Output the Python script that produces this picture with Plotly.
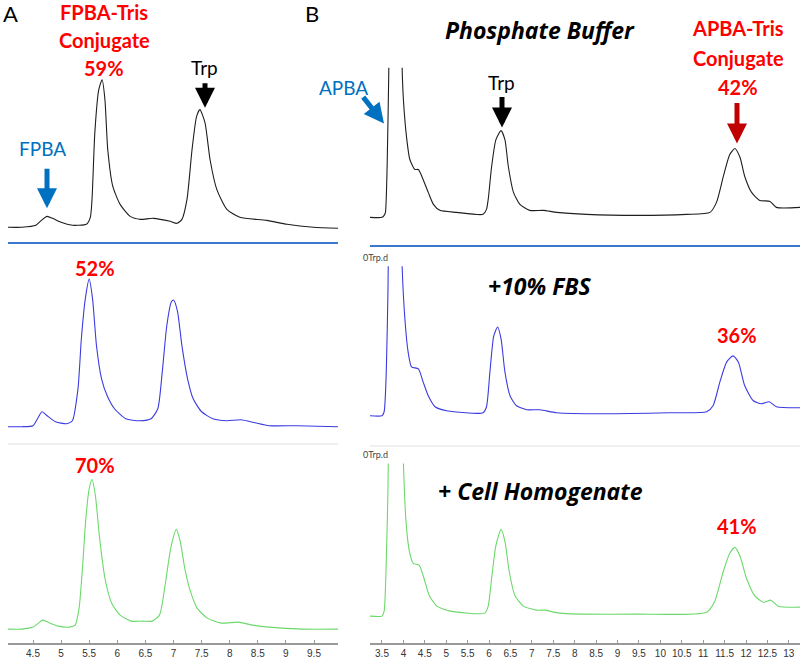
import plotly.graph_objects as go

W, H = 800, 659

# ---------------- data (retention time in min, signal above baseline, a.u.) ----------------
# Panel A, phosphate buffer (black)
a1_time = [4.05, 4.30, 4.55, 4.65, 4.75, 4.85, 5.00, 5.20, 5.30, 5.45, 5.52, 5.55, 5.60, 5.67, 5.73,
           5.78, 5.83, 5.92, 6.05, 6.23, 6.41, 6.64, 6.94, 7.06, 7.15, 7.24, 7.33, 7.41, 7.47, 7.56,
           7.65, 7.77, 7.95, 8.18, 8.66, 9.02, 9.49, 9.93]
a1_signal = [0, 0, 2, 7, 11, 9, 5, 2, 2, 3, 10, 28, 95, 138, 148,
             128, 78, 41, 23, 11, 8, 9, 6, 4, 8, 28, 78, 111, 118, 105,
             68, 38, 18, 10, 7, 3, 0, -1]
# Panel A, +10% FBS (blue)
a2_time = [4.05, 4.30, 4.50, 4.58, 4.66, 4.75, 4.90, 5.10, 5.20, 5.30, 5.36, 5.43, 5.50, 5.56, 5.63,
           5.72, 5.82, 5.95, 6.15, 6.40, 6.60, 6.72, 6.80, 6.88, 6.96, 7.00, 7.07, 7.15, 7.25, 7.35,
           7.50, 7.70, 7.95, 8.20, 8.45, 8.70, 9.20, 9.93]
a2_signal = [0, 0, 1, 8, 15, 11, 5, 3, 6, 38, 88, 128, 148, 128, 81,
             48, 31, 18, 8, 6, 8, 18, 55, 101, 125, 127, 116, 81, 48, 28,
             15, 8, 6, 7, 4, 1, 1, 0]
# Panel A, + cell homogenate (green)
a3_time = [4.05, 4.30, 4.50, 4.60, 4.67, 4.80, 4.95, 5.15, 5.25, 5.32, 5.38, 5.44, 5.50, 5.55, 5.61,
           5.68, 5.78, 5.90, 6.05, 6.25, 6.45, 6.62, 6.75, 6.85, 6.95, 7.05, 7.12, 7.20, 7.30, 7.42,
           7.60, 7.85, 8.15, 8.40, 8.70, 9.30, 9.93]
a3_signal = [-1, -1, 1, 5, 8, 5, 2, 1, 3, 20, 60, 110, 140, 149, 133,
             93, 50, 25, 13, 7, 7, 7, 13, 43, 80, 99, 87, 60, 37, 20,
             10, 5, 6, 3, 1, -1, -1]

# Panel B, phosphate buffer (black)
b1_time = [3.22, 3.50, 3.55, 3.58, 3.62, 3.66, 3.72, 3.80, 3.90, 3.97, 4.00, 4.08, 4.15, 4.27, 4.35,
           4.46, 4.58, 4.70, 4.85, 5.24, 5.86, 5.94, 5.98, 6.06, 6.16, 6.28, 6.37, 6.45, 6.57, 6.72,
           6.95, 7.27, 7.58, 8.28, 9.45, 10.61, 11.16, 11.31, 11.47, 11.62, 11.74, 11.86, 11.97, 12.13,
           12.32, 12.56, 12.71, 13.26]
b1_signal = [0, 0, 2, 5, 51, 150, 330, 420, 330, 150, 118, 78, 58, 48, 48,
             38, 25, 13, 7, 5, 3, 8, 18, 51, 78, 87, 78, 51, 25, 13,
             7, 7, 5, 3, 2, 3, 5, 15, 41, 63, 69, 60, 41, 25,
             17, 16, 10, 10]
# Panel B, +10% FBS (blue)
b2_time = [3.22, 3.50, 3.55, 3.60, 3.64, 3.70, 3.80, 3.90, 3.97, 4.04, 4.11, 4.19, 4.35, 4.46, 4.58,
           4.74, 5.01, 5.86, 5.94, 6.02, 6.11, 6.20, 6.28, 6.37, 6.49, 6.64, 6.88, 7.19, 7.58, 8.67,
           10.22, 11.08, 11.23, 11.39, 11.55, 11.70, 11.82, 11.97, 12.17, 12.36, 12.54, 12.71, 13.26]
b2_signal = [0, 0, 4, 44, 127, 330, 420, 330, 150, 94, 64, 49, 47, 34, 20,
             9, 5, 3, 9, 44, 80, 89, 77, 44, 20, 10, 6, 6, 3, 2,
             3, 4, 10, 34, 54, 60, 54, 30, 15, 12, 14, 9, 8]
# Panel B, + cell homogenate (green)
b3_time = [3.22, 3.50, 3.55, 3.60, 3.64, 3.70, 3.80, 3.90, 4.00, 4.06, 4.14, 4.23, 4.37, 4.48, 4.60,
           4.78, 5.09, 5.90, 5.98, 6.06, 6.16, 6.28, 6.37, 6.47, 6.60, 6.80, 7.11, 7.30, 7.65, 9.45,
           11.08, 11.27, 11.47, 11.62, 11.74, 11.86, 12.01, 12.21, 12.41, 12.58, 12.75, 13.26]
b3_signal = [0, 0, 5, 55, 128, 330, 420, 330, 153, 95, 65, 53, 51, 38, 21,
             10, 5, 3, 10, 38, 71, 87, 75, 45, 21, 10, 6, 6, 3, 2,
             4, 15, 45, 63, 69, 60, 38, 20, 14, 16, 10, 9]

a_ticks = [4.5, 5, 5.5, 6, 6.5, 7, 7.5, 8, 8.5, 9, 9.5]
b_ticks = [3.5, 4, 4.5, 5, 5.5, 6, 6.5, 7, 7.5, 8, 8.5, 9, 9.5, 10, 10.5, 11, 11.5, 12, 12.5, 13]

# ---------------- layout helpers ----------------
def px_x(p):
    return p / W

def px_y(p):
    return 1 - p / H

BLACK = "#1e1e1e"
BLUE_TR = "#3b3be0"
GREEN_TR = "#6cd96c"
RED = "#ff0000"
DARKRED = "#c00000"
BLUE_TX = "#0070c0"
FONT = "Lato, Open Sans, sans-serif"
FONT_IT = "Open Sans, Lato, sans-serif"

fig = go.Figure()

panels = [
    (a1_time, a1_signal, BLACK, 1),
    (a2_time, a2_signal, BLUE_TR, 2),
    (a3_time, a3_signal, GREEN_TR, 3),
    (b1_time, b1_signal, BLACK, 4),
    (b2_time, b2_signal, BLUE_TR, 5),
    (b3_time, b3_signal, GREEN_TR, 6),
]
for t, s, c, i in panels:
    fig.add_trace(go.Scatter(
        x=t, y=s, mode="lines",
        line=dict(color=c, width=1.1, shape="spline", smoothing=0.6),
        xaxis=f"x{i}", yaxis=f"y{i}", showlegend=False, hoverinfo="skip"))

LEFT = (8, 338)
RIGHT = (370, 800)
A_RANGE = [4.055, 9.927]
B_RANGE = [3.22, 13.26]
axes_spec = {
    1: (LEFT, (243, 62), A_RANGE, [-15, 166], "#3a78d0", None),
    2: (LEFT, (444, 262), A_RANGE, [-16, 166], "#efefef", None),
    3: (LEFT, (645, 455), A_RANGE, [-15, 175], "#999999", a_ticks),
    4: (RIGHT, (246, 68), B_RANGE, [-28, 150], "#3a78d0", None),
    5: (RIGHT, (446, 267), B_RANGE, [-29, 150], "#efefef", None),
    6: (RIGHT, (645, 465), B_RANGE, [-27, 153], "#999999", b_ticks),
}
lay = {}
for i, (xd, yd, xr, yr, lc, ticks) in axes_spec.items():
    xa = dict(domain=[px_x(xd[0]), px_x(xd[1])], range=xr, anchor=f"y{i}",
              showgrid=False, zeroline=False, showline=True, linecolor=lc,
              linewidth=2 if lc == "#3a78d0" else 1.5, fixedrange=True)
    if ticks is not None:
        xa.update(tickvals=ticks, ticktext=[f"{v:g}" for v in ticks], ticks="inside",
                  ticklen=3, tickcolor="#999999", tickwidth=1, ticklabelstandoff=0,
                  tickfont=dict(family="Liberation Sans Narrow, Liberation Sans, Arial", size=10,
                                color="#333333"))
    else:
        xa.update(showticklabels=False, ticks="")
    ya = dict(domain=[px_y(yd[0]), px_y(yd[1])], range=yr, anchor=f"x{i}",
              visible=False, fixedrange=True)
    lay["xaxis" if i == 1 else f"xaxis{i}"] = xa
    lay["yaxis" if i == 1 else f"yaxis{i}"] = ya

fig.update_layout(width=W, height=H, margin=dict(l=0, r=0, t=0, b=0),
                  paper_bgcolor="white", plot_bgcolor="white", **lay)

ann = []

def text(s, x, y, size, color="black", bold=False, italic=False, xanchor="center", family=FONT):
    t = s
    if bold:
        t = f"<b>{t}</b>"
    if italic:
        t = f"<i>{t}</i>"
    ann.append(dict(text=t, x=px_x(x), y=px_y(y), xref="paper", yref="paper",
                    xanchor=xanchor, yanchor="middle", showarrow=False,
                    font=dict(family=family, size=size, color=color)))

def arrow(x0, y0, x1, y1, color, width=5):
    ann.append(dict(text="", x=px_x(x1), y=px_y(y1), xref="paper", yref="paper",
                    ax=x0 - x1, ay=y0 - y1, axref="pixel", ayref="pixel",
                    showarrow=True, arrowhead=2, arrowsize=0.8, arrowwidth=width,
                    arrowcolor=color, standoff=0, startstandoff=0))

# panel letters
text("A", 10, 14, 22, "black")
text("B", 312, 14, 22, "black")

# Panel A annotations
text("FPBA-Tris", 104, 12, 20, RED, bold=True)
text("Conjugate", 104, 40, 20, RED, bold=True)
text("59%", 104, 68, 20, RED, bold=True)
text("Trp", 205, 68, 19, "black")
arrow(205, 82, 205, 108, "black")
text("FPBA", 42, 149, 19, BLUE_TX)
arrow(47, 168, 47, 209, BLUE_TX)
text("52%", 95, 269, 20, RED, bold=True)
text("70%", 95, 466, 20, RED, bold=True)

# Panel B annotations
text("Phosphate Buffer", 540, 30, 23, "black", bold=True, italic=True, family=FONT_IT)
text("APBA-Tris", 738, 28, 20, RED, bold=True)
text("Conjugate", 738, 58, 20, RED, bold=True)
text("42%", 738, 87, 20, RED, bold=True)
arrow(737, 102, 737, 144, DARKRED)
text("Trp", 502, 83, 19, "black")
arrow(502, 96, 502, 128, "black")
text("APBA", 343, 88, 19, BLUE_TX)
arrow(362, 96, 384, 124, BLUE_TX)
text("+10% FBS", 540, 287, 23, "black", bold=True, italic=True, family=FONT_IT)
text("36%", 737, 336, 20, RED, bold=True)
text("+ Cell Homogenate", 540, 492, 23, "black", bold=True, italic=True, family=FONT_IT)
text("41%", 737, 528, 20, RED, bold=True)
text("0Trp.d", 361, 258, 9, "#444444", xanchor="left")
text("0Trp.d", 361, 456, 9, "#444444", xanchor="left")

fig.update_layout(annotations=ann)
fig.write_html("out.html", config={"displayModeBar": False},
               post_script="document.body.style.margin='0px';")
